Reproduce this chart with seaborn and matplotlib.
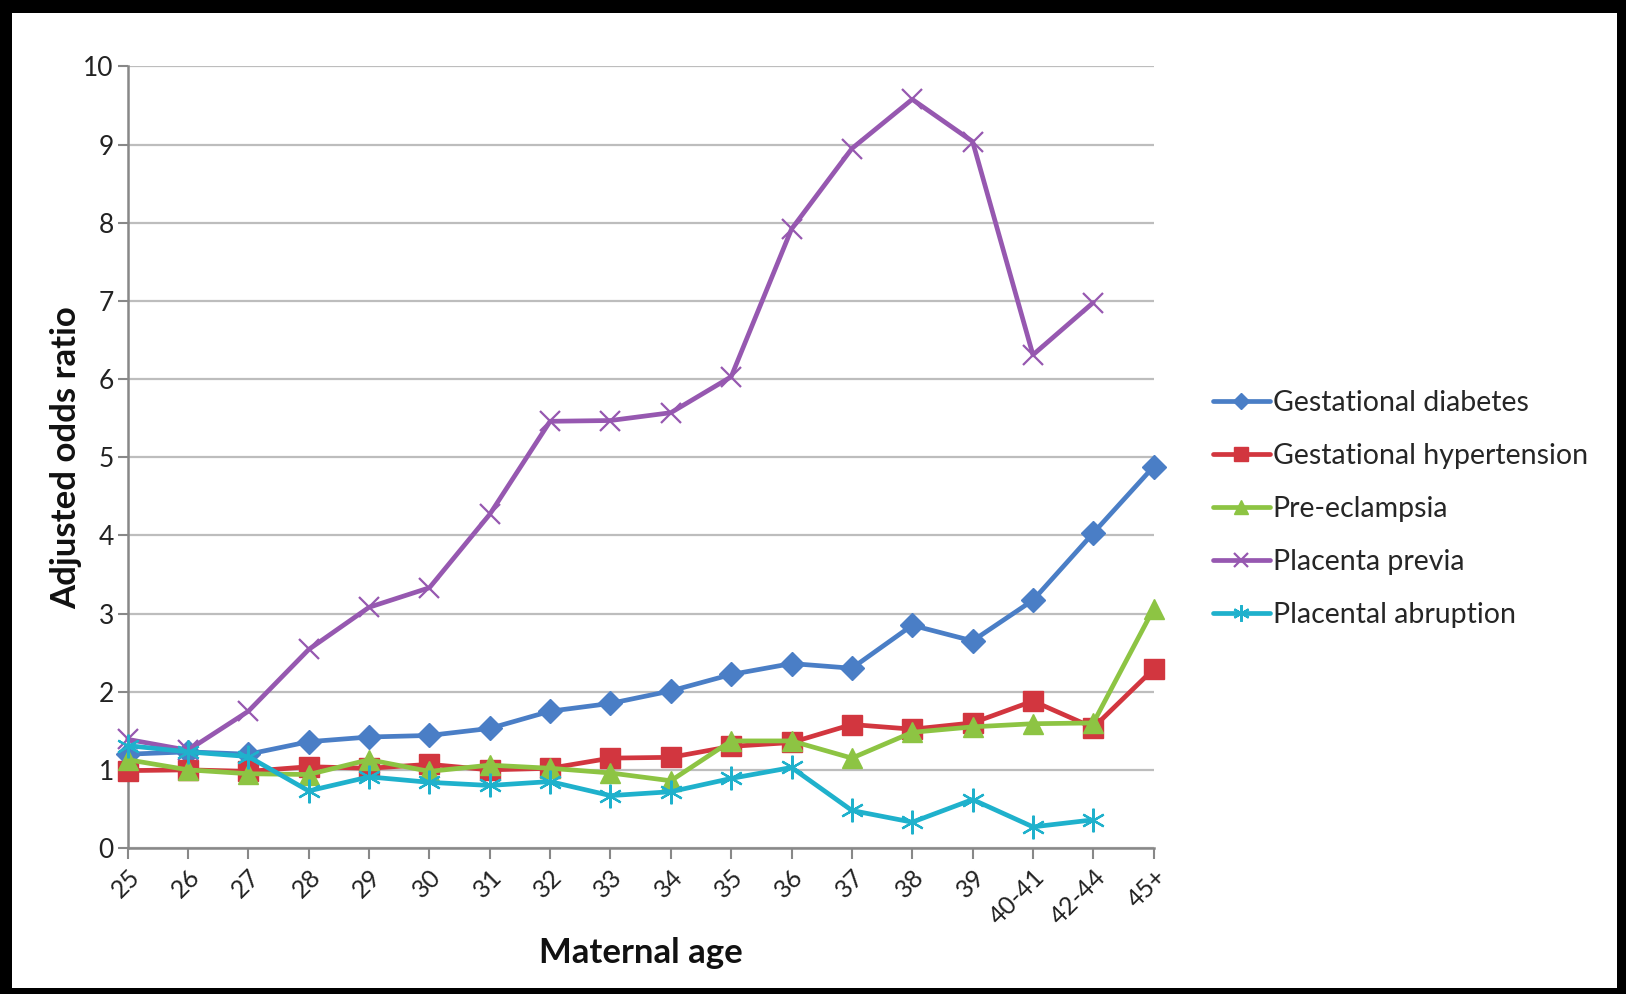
import numpy as np
import pandas as pd
import matplotlib
matplotlib.use("Agg")
import matplotlib.pyplot as plt
import seaborn as sns
from matplotlib.patches import Rectangle

# Adjusted odds ratios of pregnancy complications by maternal age
ages = ["25", "26", "27", "28", "29", "30", "31", "32", "33", "34",
        "35", "36", "37", "38", "39", "40-41", "42-44", "45+"]

gestational_diabetes = [1.20, 1.23, 1.20, 1.36, 1.42, 1.44, 1.53, 1.75, 1.85, 2.01,
                        2.22, 2.36, 2.30, 2.85, 2.65, 3.17, 4.03, 4.88]
gestational_hypertension = [0.99, 1.00, 0.98, 1.04, 1.02, 1.07, 1.00, 1.02, 1.15, 1.16,
                            1.30, 1.35, 1.58, 1.52, 1.60, 1.88, 1.54, 2.29]
pre_eclampsia = [1.13, 1.00, 0.95, 0.94, 1.13, 0.98, 1.06, 1.02, 0.96, 0.86,
                 1.37, 1.37, 1.15, 1.48, 1.55, 1.59, 1.60, 3.06]
placenta_previa = [1.39, 1.25, 1.75, 2.54, 3.08, 3.33, 4.27, 5.46, 5.47, 5.57,
                   6.03, 7.92, 8.95, 9.58, 9.04, 6.31, 6.98, np.nan]
placental_abruption = [1.31, 1.23, 1.17, 0.73, 0.91, 0.84, 0.80, 0.85, 0.67, 0.72,
                       0.89, 1.03, 0.48, 0.33, 0.62, 0.27, 0.36, np.nan]

series = [
    ("Gestational diabetes", gestational_diabetes, "#4A7EC6", "D", 12, 1.0),
    ("Gestational hypertension", gestational_hypertension, "#D2363F", "s", 15, 1.0),
    ("Pre-eclampsia", pre_eclampsia, "#8DC443", "^", 15, 1.0),
    ("Placenta previa", placenta_previa, "#9658B0", "x", 14, 1.6),
    ("Placental abruption", placental_abruption, "#1FB1CC", (6, 2, 0), 17, 1.6),
]

sns.set_theme(style="white")
plt.rcParams["font.family"] = ["Lato", "DejaVu Sans"]

fig = plt.figure(figsize=(16.26, 9.94), dpi=100)
fig.patch.set_facecolor("white")
ax = fig.add_axes([0.0785, 0.1469, 0.631, 0.7862])

pos = np.arange(len(ages))
for label, vals, color, marker, ms, mew in series:
    df = pd.DataFrame({"pos": pos, "value": vals})
    sns.lineplot(data=df, x="pos", y="value", ax=ax, color=color, linewidth=3.4,
                 marker=marker, markersize=ms, markeredgecolor=color,
                 markeredgewidth=mew, label=label, clip_on=False, zorder=3)

ax.set_xlim(0, len(ages) - 1)
ax.set_ylim(0, 10)
ax.set_yticks(range(0, 11))
ax.set_xticks(pos)
ax.set_xticklabels(ages, rotation=45, ha="right", va="top",
                   rotation_mode="anchor", fontsize=18, color="#222222")
ax.tick_params(axis="y", labelsize=19, colors="#222222", length=7, width=1.5,
               color="#888888", direction="out", left=True, pad=3)
ax.tick_params(axis="x", length=8, width=1.5, color="#888888",
               direction="out", bottom=True, pad=4)

ax.grid(axis="y", color="#BDBDBD", linewidth=1.6, zorder=0)
ax.grid(axis="x", visible=False)
for side in ("top", "right"):
    ax.spines[side].set_visible(False)
for side in ("left", "bottom"):
    ax.spines[side].set_color("#888888")
    ax.spines[side].set_linewidth(1.8)

ax.set_xlabel("Maternal age", fontsize=25, fontweight="bold", color="#111111",
              labelpad=6)
ax.set_ylabel("Adjusted odds ratio", fontsize=25, fontweight="bold",
              color="#111111", labelpad=1)

ax.legend(loc="center left", bbox_to_anchor=(0.746, 0.488),
          bbox_transform=fig.transFigure, frameon=False, fontsize=20.5,
          handlelength=2.0, handletextpad=0.1, labelspacing=0.95,
          borderaxespad=0, borderpad=0, markerscale=0.7)

# Black frame around the figure
W, H = 1626, 994
for x0, y0, w, h in [(0, 0, 12, H), (0, H - 13, W, 13),
                     (W - 9, 0, 9, H), (0, 0, W, 6)]:
    fig.patches.append(Rectangle((x0 / W, y0 / H), w / W, h / H,
                                 transform=fig.transFigure, facecolor="black",
                                 edgecolor="none", zorder=10))

fig.savefig("out.png", dpi=100, facecolor="white")
